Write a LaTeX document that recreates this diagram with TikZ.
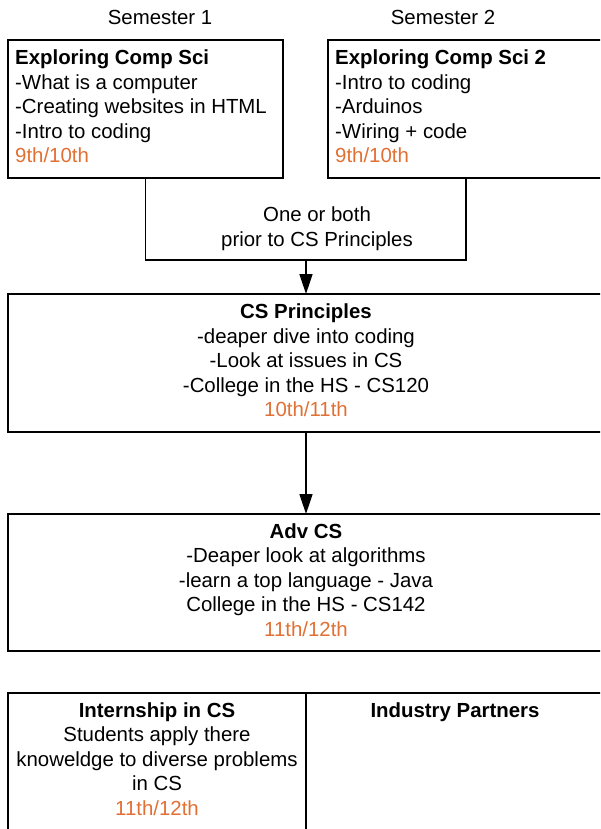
\documentclass[tikz,border=0pt]{standalone}
\usepackage{fontspec}
\setmainfont{Liberation Sans}
\usetikzlibrary{arrows.meta}
\definecolor{gradeorange}{RGB}{224,112,52}
\begin{document}
\begin{tikzpicture}[x=1pt,y=-1pt,
  every node/.style={font=\fontsize{20.4pt}{24.5pt}\selectfont},
  box/.style={draw=black, line width=1.6pt, inner sep=0pt, outer sep=0pt},
  ltext/.style={inner sep=0pt, align=left},
  plain/.style={inner sep=0pt, align=center},
  conn/.style={line width=1.6pt},
  arr/.style={line width=1.6pt, -{Triangle[length=20pt,width=13pt]}}
]
\useasboundingbox (0,0) rectangle (600,829);
\clip (0,0) rectangle (600,829);

\node[plain] (s1) at (160,17) {Semester 1};
\node[plain] (s2) at (443,17) {Semester 2};

\node[box, minimum width=275pt, minimum height=138pt] (b1) at (145.5,109) {};
\node[box, minimum width=276pt, minimum height=138pt] (b2) at (466,109) {};
\node[box, minimum width=596pt, minimum height=138pt] (b3) at (306,363) {};
\node[box, minimum width=596pt, minimum height=137pt] (b4) at (306,582.5) {};
\node[box, minimum width=298pt, minimum height=187pt] (b5) at (157,786.5) {};
\node[box, minimum width=298pt, minimum height=187pt] (b6) at (455,786.5) {};

\node[ltext, anchor=west] (t1) at ([xshift=7pt,yshift=2.5pt]b1.west)
  {\textbf{Exploring Comp Sci}\\-What is a computer\\-Creating websites in HTML\\-Intro to coding\\\textcolor{gradeorange}{9th/10th}};
\node[ltext, anchor=west] (t2) at ([xshift=7pt,yshift=2.5pt]b2.west)
  {\textbf{Exploring Comp Sci 2}\\-Intro to coding\\-Arduinos\\-Wiring + code\\\textcolor{gradeorange}{9th/10th}};
\node[plain] (t3) at ([yshift=2.5pt]b3.center)
  {\textbf{CS Principles}\\-deaper dive into coding\\-Look at issues in CS\\-College in the HS - CS120\\\textcolor{gradeorange}{10th/11th}};
\node[plain] (t4) at ([yshift=2.5pt]b4.center)
  {\textbf{Adv CS}\\-Deaper look at algorithms\\-learn a top language - Java\\College in the HS - CS142\\\textcolor{gradeorange}{11th/12th}};
\node[plain, anchor=north] (t5) at ([yshift=-9.5pt]b5.north)
  {\textbf{Internship in CS}\\Students apply there\\knoweldge to diverse problems\\in CS\\\textcolor{gradeorange}{11th/12th}};
\node[plain, anchor=north] (t6) at ([yshift=-9.5pt]b6.north) {\textbf{Industry Partners}};

\coordinate (j) at (306,260);
\draw[conn] (b1.south) -- (b1.south |- j) -- (b2.south |- j) -- (b2.south);
\node[plain] (lab) at (317,228.5) {One or both\\prior to CS Principles};
\draw[arr] (j) -- (b3.north);
\draw[arr] (b3.south) -- (b4.north);
\end{tikzpicture}
\end{document}
